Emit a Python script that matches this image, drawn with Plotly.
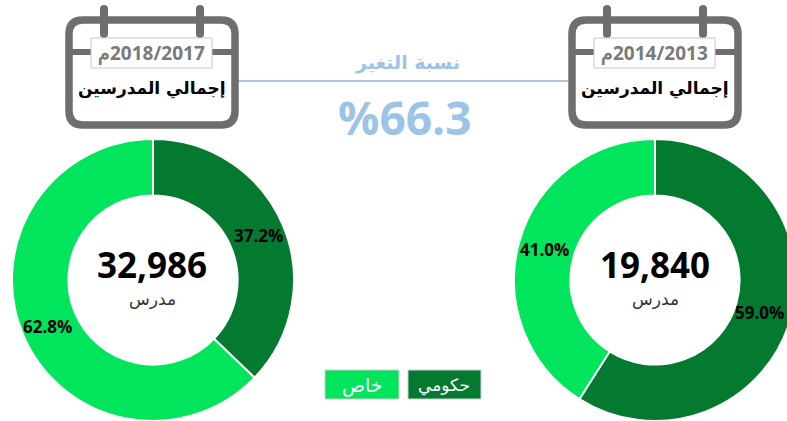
import math
import plotly.graph_objects as go

W, H = 800, 421

categories = ["حكومي", "خاص"]
values_2014 = [59.0, 41.0]
values_2018 = [37.2, 62.8]
total_2014 = "19,840"
total_2018 = "32,986"
year_2014 = "2014/2013"
year_2018 = "2018/2017"
change_label = "نسبة التغير"
change_value = "%66.3"
calendar_title = "إجمالي المدرسين"
unit_label = "مدرس"
colors = ["#037a30", "#00e55c"]

AR = "DejaVu Sans, Noto Sans, sans-serif"
NUM = "Open Sans, Noto Sans, sans-serif"


def px(x):
    return x / W


def py(y):
    return 1 - y / H


def pie(vals, x0, x1):
    return go.Pie(
        labels=categories, values=vals, sort=False, direction="clockwise", rotation=0,
        hole=0.6, domain=dict(x=[px(x0), px(x1)], y=[py(421), py(139)]),
        marker=dict(colors=colors, line=dict(color="#ffffff", width=2)),
        textinfo="none", showlegend=False, hoverinfo="label+percent",
    )


fig = go.Figure([pie(values_2018, 12, 294), pie(values_2014, 514, 796)])

shapes = []
annotations = []


def text(x, y, s, size, color, family=AR, bold=True):
    annotations.append(dict(
        x=px(x), y=py(y), xref="paper", yref="paper", text=f"<b>{s}</b>" if bold else s,
        showarrow=False, xanchor="center", yanchor="middle",
        font=dict(family=family, size=size, color=color),
    ))


def slice_labels(vals, cx, cy, r):
    start = 0.0
    total = sum(vals)
    for v in vals:
        a = 2 * math.pi * (start + v / 2) / total
        text(cx + r * math.sin(a), cy - r * math.cos(a) + 1, f"{v:.1f}%", 17, "#000000", NUM)
        start += v


def rect(x0, y0, x1, y1, fill, line="rgba(0,0,0,0)", lw=1):
    shapes.append(dict(type="rect", xref="paper", yref="paper",
                       x0=px(x0), x1=px(x1), y0=py(y0), y1=py(y1),
                       fillcolor=fill, line=dict(color=line, width=lw)))


def line(x0, y0, x1, y1, color, lw):
    shapes.append(dict(type="line", xref="paper", yref="paper",
                       x0=px(x0), x1=px(x1), y0=py(y0), y1=py(y1),
                       line=dict(color=color, width=lw)))


def rounded(L, T, R, B, r, fill, stroke, lw):
    path = (f"M {px(L + r)} {py(T)} L {px(R - r)} {py(T)} Q {px(R)} {py(T)} {px(R)} {py(T + r)} "
            f"L {px(R)} {py(B - r)} Q {px(R)} {py(B)} {px(R - r)} {py(B)} "
            f"L {px(L + r)} {py(B)} Q {px(L)} {py(B)} {px(L)} {py(B - r)} "
            f"L {px(L)} {py(T + r)} Q {px(L)} {py(T)} {px(L + r)} {py(T)} Z")
    shapes.append(dict(type="path", xref="paper", yref="paper", path=path,
                       fillcolor=fill, line=dict(color=stroke, width=lw)))


def calendar(dx, year):
    L, R, T, B = 69 + dx, 235 + dx, 20, 125
    gray = "#6e6e6e"
    rounded(L, T, R, B, 14, "#ffffff", gray, 7.5)
    rounded(100 + dx, 5, 108 + dx, 38, 4, gray, gray, 0)
    rounded(196 + dx, 5, 204 + dx, 38, 4, gray, gray, 0)
    line(L, 52, R, 52, gray, 6)
    rect(91 + dx, 38, 212 + dx, 68, "#ffffff", "#c8c8c8", 1)
    text(151 + dx, 53, "م\u200e" + year, 19, "#7a7a7a", NUM)
    text(152 + dx, 88, calendar_title, 17, "#000000")


line(238, 81, 568, 81, "#a9c4dc", 2)
calendar(0, year_2018)
calendar(503, year_2014)

text(407, 62, change_label, 19, "#9dc3e6")
text(404, 117, change_value, 46, "#9dc3e6", NUM)

text(152, 264, total_2018, 35, "#000000", NUM)
text(152, 299, unit_label, 17, "#333333", AR, False)
text(655, 264, total_2014, 35, "#000000", NUM)
text(655, 299, unit_label, 17, "#333333", AR, False)

slice_labels(values_2018, 153, 280, 115)
slice_labels(values_2014, 652, 280, 112)

rect(325, 370, 399, 399, colors[1], "#cfcfcf", 1)
rect(408, 370, 481, 399, colors[0], "#cfcfcf", 1)
text(362, 385, categories[1], 19, "#ffffff", AR, False)
text(444, 385, categories[0], 17, "#ffffff", AR, False)

fig.update_layout(width=W, height=H, margin=dict(l=0, r=0, t=0, b=0),
                  paper_bgcolor="#ffffff", plot_bgcolor="#ffffff",
                  shapes=shapes, annotations=annotations)
fig.write_html("out.html", config=dict(displayModeBar=False),
               post_script="document.documentElement.style.overflow='hidden';document.body.style.overflow='hidden';document.body.style.margin='0';")
